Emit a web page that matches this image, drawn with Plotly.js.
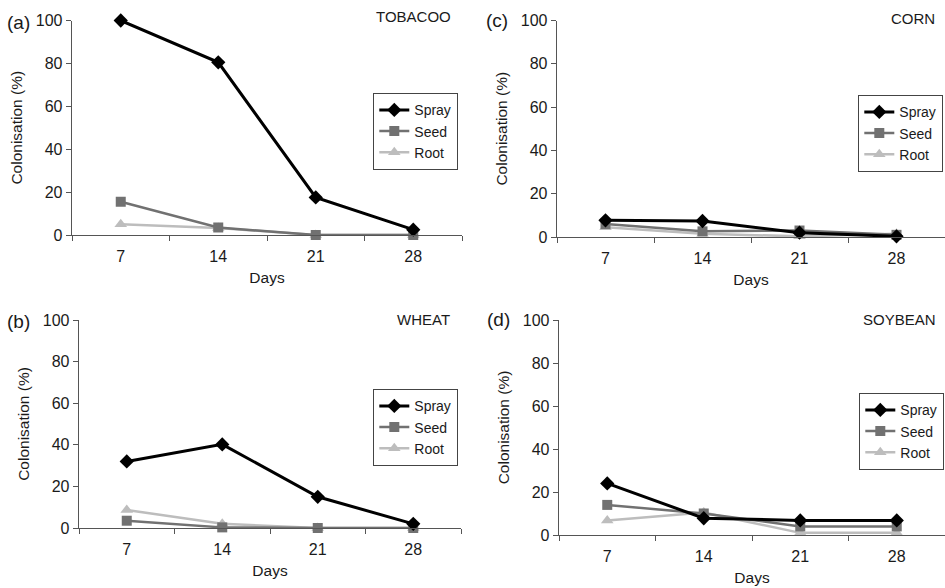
<!DOCTYPE html>
<html>
<head>
<meta charset="utf-8">
<script src="https://cdn.plot.ly/plotly-3.0.1.min.js"></script>
<style>html,body{margin:0;padding:0;background:#fff;}#chart{width:945px;height:588px;}</style>
</head>
<body>
<div id="chart"></div>
<script>
const days = ['7', '14', '21', '28'];
const seriesNames = ['Spray', 'Seed', 'Root'];

const tobaccoSpray = [100, 80.5, 17.5, 2.5];
const tobaccoSeed  = [15.5, 3.5, 0, 0];
const tobaccoRoot  = [5, 3.3, 0, 0];

const cornSpray = [7.7, 7.4, 2, 0.3];
const cornSeed  = [6, 2.6, 3, 1];
const cornRoot  = [4.5, 1.5, 0.3, 1.5];

const wheatSpray = [32, 40.2, 15, 2];
const wheatSeed  = [3.5, 0.3, 0, 0];
const wheatRoot  = [8.7, 2, 0, 0];

const soySpray = [24, 7.8, 6.8, 6.8];
const soySeed  = [14, 10, 4, 4];
const soyRoot  = [6.8, 10.5, 1, 1];

const panelLabels = ['(a)', '(c)', '(b)', '(d)'];
const cropNames = ['TOBACOO', 'CORN', 'WHEAT', 'SOYBEAN'];

const W = 945, H = 588;
const px = v => v / W;
const py = v => 1 - v / H;

const styles = {
  Spray: {color: '#000000', symbol: 'diamond', size: 11, width: 3},
  Seed:  {color: '#717171', symbol: 'square', size: 10, width: 2.5},
  Root:  {color: '#bdbdbd', symbol: 'triangle-up', size: 11, width: 2.5}
};

// panel geometry (pixels): [xLeft, xRight, yTop(100), yBottom(0)]
const panels = [
  {data: [tobaccoSpray, tobaccoSeed, tobaccoRoot], geom: [72, 462, 20.5, 235], legend: [373, 93], label: [5, 22], crop: [453, 16]},
  {data: [cornSpray, cornSeed, cornRoot], geom: [557, 946, 20.5, 237], legend: [858, 95], label: [484, 21], crop: [937, 18]},
  {data: [wheatSpray, wheatSeed, wheatRoot], geom: [79, 461, 320, 528], legend: [373, 389], label: [5, 321], crop: [452, 319]},
  {data: [soySpray, soySeed, soyRoot], geom: [559, 946, 320, 535], legend: [859, 393], label: [485, 319], crop: [938, 319]}
];

const txt = '#1a1a1a';
const font = {family: 'Liberation Sans, Arial, sans-serif', size: 15, color: txt};
const traces = [];
const layout = {
  width: W, height: H,
  margin: {l: 0, r: 0, t: 0, b: 0},
  paper_bgcolor: '#fff', plot_bgcolor: '#fff',
  font: font,
  annotations: [],
  showlegend: true
};

panels.forEach((p, i) => {
  const n = i + 1;
  const xa = 'xaxis' + (n === 1 ? '' : n);
  const ya = 'yaxis' + (n === 1 ? '' : n);
  const xr = 'x' + (n === 1 ? '' : n);
  const yr = 'y' + (n === 1 ? '' : n);
  const lg = 'legend' + (n === 1 ? '' : n);
  const [x0, x1, yTop, yBot] = p.geom;
  layout[xa] = {
    type: 'category', domain: [px(x0), Math.min(1, px(x1))], range: [-0.5, 3.5],
    anchor: yr, showline: true, linecolor: '#555', linewidth: 1.3,
    ticks: 'outside', ticklen: 5, tickcolor: '#555', tickson: 'boundaries',
    ticklabelstandoff: 6,
    showgrid: false, zeroline: false, fixedrange: true,
    tickfont: {size: 16, color: txt},
    title: {text: 'Days', font: {size: 15.5, color: txt}, standoff: 8}
  };
  layout[ya] = {
    domain: [py(yBot), py(yTop)], range: [0, 100], anchor: xr,
    tickvals: [0, 20, 40, 60, 80, 100],
    showline: true, linecolor: '#555', linewidth: 1.3,
    ticks: 'outside', ticklen: 5, tickcolor: '#555',
    showgrid: false, zeroline: false, fixedrange: true,
    tickfont: {size: 16, color: txt},
    title: {text: 'Colonisation (%)', font: {size: 15.5, color: txt}, standoff: 9}
  };
  layout[lg] = {
    x: px(p.legend[0]), y: py(p.legend[1]), xanchor: 'left', yanchor: 'top',
    bgcolor: '#fff', bordercolor: '#444', borderwidth: 1.3,
    font: {size: 14, color: txt}, tracegroupgap: 0
  };
  p.data.forEach((vals, k) => {
    const s = styles[seriesNames[k]];
    traces.push({
      type: 'scatter', mode: 'lines+markers', name: seriesNames[k],
      x: days, y: vals, xaxis: xr, yaxis: yr, legend: lg,
      cliponaxis: false,
      line: {color: s.color, width: s.width},
      marker: {color: s.color, symbol: s.symbol, size: s.size}
    });
  });
  layout.annotations.push({
    xref: 'paper', yref: 'paper', x: px(p.label[0]), y: py(p.label[1]),
    xanchor: 'left', yanchor: 'middle', showarrow: false,
    text: panelLabels[i], font: {size: 19, color: txt}
  });
  layout.annotations.push({
    xref: 'paper', yref: 'paper', x: px(p.crop[0]), y: py(p.crop[1]),
    xanchor: 'right', yanchor: 'middle', showarrow: false,
    text: cropNames[i], font: {size: 15, color: txt}
  });
});

// legend order Spray, Seed, Root; drawing order puts Spray on top
traces.forEach((t, idx) => { t.legendrank = (idx % 3) + 1; });
const ordered = [];
for (let i = 0; i < traces.length; i += 3) {
  ordered.push(traces[i + 2], traces[i + 1], traces[i]);
}

Plotly.newPlot('chart', ordered, layout, {staticPlot: true, displayModeBar: false});
</script>
</body>
</html>
